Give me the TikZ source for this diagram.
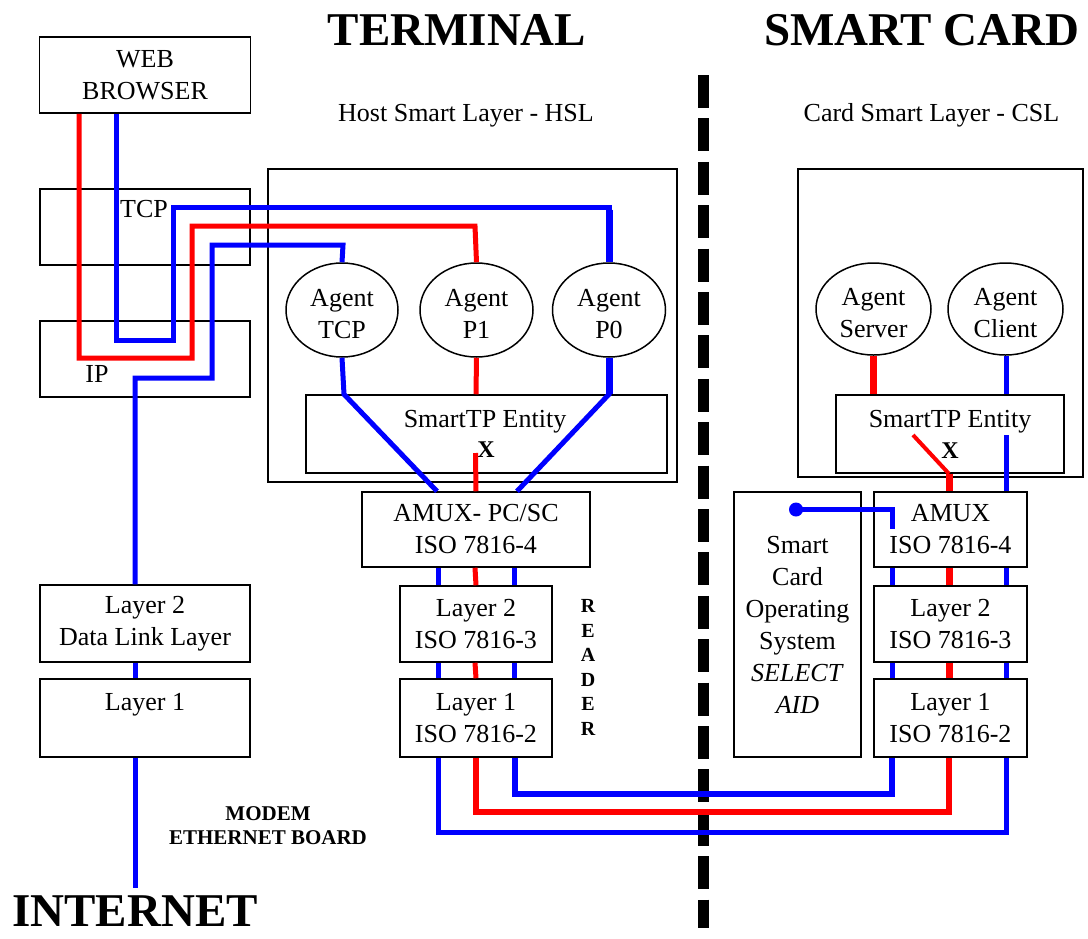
\documentclass[tikz,border=0pt]{standalone}
\usepackage{fontspec}
\setmainfont{Liberation Serif}
\usetikzlibrary{shapes.geometric}
\begin{document}
\begin{tikzpicture}[x=1pt,y=-1pt,
  box/.style={draw=black, line width=1.5pt, rectangle, inner sep=0pt, align=center,
              font=\fontsize{26}{32}\selectfont},
  agent/.style={draw=black, line width=1.5pt, ellipse, inner sep=0pt},
  agtxt/.style={inner sep=0pt, align=center, yshift=-4pt, font=\fontsize{26}{32}\selectfont},
  txt/.style={inner sep=0pt, font=\fontsize{26}{32}\selectfont},
  title/.style={inner sep=0pt, font=\bfseries\fontsize{47}{47}\selectfont},
  bw/.style={draw={rgb,255:red,0;green,0;blue,255}, line width=5pt},
  rw/.style={draw={rgb,255:red,255;green,0;blue,0}, line width=5pt},
  heavy/.style={line width=7pt}
]
\fill[white] (0,0) rectangle (1088,938);
\useasboundingbox (0,0) rectangle (1088,938);

% ---------- titles ----------
\node[title, anchor=base] (term) at (457,45) {TERMINAL};
\node[title, anchor=base] (scard) at (922,45) {SMART CARD};
\node[txt, anchor=base] (hsllbl) at (466,121) {Host Smart Layer - HSL};
\node[txt, anchor=base] (csllbl) at (931.5,121) {Card Smart Layer - CSL};
\node[title, anchor=base] (internet) at (135,926) {INTERNET};

% ---------- separator between terminal and card ----------
\draw[line width=11pt, dash pattern=on 33pt off 10.4pt] (703.5,75) -- (703.5,928);

% ---------- host protocol stack ----------
\node[box, minimum width=211pt, minimum height=76pt] (browser) at (145,75) {WEB\\BROWSER};
\node[box, minimum width=210pt, minimum height=76pt] (tcp) at (145,227) {};
\node[txt, anchor=base] (tcplbl) at (144,217) {TCP};
\node[box, minimum width=210pt, minimum height=76pt] (ip) at (145,359) {};
\node[txt, anchor=base] (iplbl) at (97,382) {IP};
\node[box, minimum width=210pt, minimum height=77pt] (dll) at (145,623.5) {Layer 2\\Data Link Layer};
\node[box, minimum width=210pt, minimum height=78pt] (lay1) at (145,718) {};
\node[txt, anchor=base] (lay1lbl) at (145,710) {Layer 1};
\node[inner sep=0pt, font=\bfseries\fontsize{21}{24}\selectfont, anchor=base] (modem) at (268,820) {MODEM};
\node[inner sep=0pt, font=\bfseries\fontsize{21}{24}\selectfont, anchor=base] (ethb) at (268,844) {ETHERNET BOARD};

% ---------- host smart layer ----------
\node[box, minimum width=409pt, minimum height=313pt] (hsl) at (472.5,325.5) {};
\node[box, minimum width=361pt, minimum height=78pt] (hstp) at (486.5,434) {};
\node[txt, anchor=base] (hstplbl) at (485,427) {SmartTP Entity};
\node[inner sep=0pt, font=\bfseries\fontsize{24}{24}\selectfont, anchor=base] (hstpx) at (486,457) {X};
\node[agent, minimum width=112pt, minimum height=94pt, label={[agtxt]center:{Agent\\TCP}}] (agtcp) at (342,310) {};
\node[agent, minimum width=113pt, minimum height=94pt, label={[agtxt]center:{Agent\\P1}}] (agp1) at (476.5,310) {};
\node[agent, minimum width=113pt, minimum height=94pt, label={[agtxt]center:{Agent\\P0}}] (agp0) at (609,310) {};

% ---------- reader ----------
\node[box, minimum width=228pt, minimum height=75pt] (hamux) at (476,529.5) {AMUX- PC/SC\\ISO 7816-4};
\node[box, minimum width=152pt, minimum height=76pt] (rl2) at (476,624) {Layer 2\\ISO 7816-3};
\node[box, minimum width=152pt, minimum height=78pt] (rl1) at (476,718) {Layer 1\\ISO 7816-2};
\node[inner sep=0pt, align=center, font=\bfseries\fontsize{20}{24.5}\selectfont] (reader) at (588,667.4) {R\\E\\A\\D\\E\\R};

% ---------- card smart layer ----------
\node[box, minimum width=285pt, minimum height=308pt] (csl) at (940.5,323) {};
\node[box, minimum width=228pt, minimum height=78pt] (cstp) at (950,434) {};
\node[txt, anchor=base] (cstplbl) at (950,427) {SmartTP Entity};
\node[inner sep=0pt, font=\bfseries\fontsize{24}{24}\selectfont, anchor=base] (cstpx) at (950,458) {X};
\node[agent, minimum width=115pt, minimum height=92pt, label={[agtxt]center:{Agent\\Server}}] (agsrv) at (873.5,309) {};
\node[agent, minimum width=115pt, minimum height=92pt, label={[agtxt]center:{Agent\\Client}}] (agcli) at (1005.5,309) {};

% ---------- card stack ----------
\node[box, minimum width=127pt, minimum height=265pt] (scos) at (797.5,624.5)
  {Smart\\Card\\Operating\\System\\\textit{SELECT}\\\textit{AID}};
\node[box, minimum width=153pt, minimum height=75pt] (camux) at (950.5,529.5) {AMUX\\ISO 7816-4};
\node[box, minimum width=153pt, minimum height=76pt] (cl2) at (950.5,624) {Layer 2\\ISO 7816-3};
\node[box, minimum width=153pt, minimum height=78pt] (cl1) at (950.5,718) {Layer 1\\ISO 7816-2};

% ---------- free ends ----------
\coordinate (inet) at (135,888);
\coordinate (hx) at (475.5,453);
\coordinate (cx1) at (913,435);
\coordinate (cx2) at (1006,435);
\coordinate (selin) at (892,529);

% ---------- host paths ----------
\draw[rw] (79,0 |- browser.south) -- (79,358) -- (192,358) -- (192,226) -- (475,226) -- (agp1.north);
\draw[bw] (116,0 |- browser.south) -- (116,340) -- (173,340) -- (173,207) -- (609,207) -- (agp0.north);
\draw[bw, heavy] (609,209.5) -- (agp0.north);
\draw[bw] (135,0 |- dll.north) -- (135,378) -- (212,378) -- (212,245) -- (343,245) -- (agtcp.north);
\draw[bw] (135,0 |- dll.south) -- (135,0 |- lay1.north);
\draw[bw] (135,0 |- lay1.south) -- (inet);

% ---------- inside the host smart layer ----------
\draw[bw] (agtcp.south) -- (344,0 |- hstp.north) -- (437,0 |- hamux.north);
\draw[rw] (agp1.south) -- (476,0 |- hstp.north);
\draw[rw] (hx) -- (476,0 |- hamux.north);
\draw[bw] (agp0.south) -- (609,0 |- hstp.north) -- (517,0 |- hamux.north);
\draw[bw, heavy] (agp0.south) -- (609,0 |- hstp.north);

% ---------- reader layers ----------
\draw[bw] (438,0 |- hamux.south) -- (438,0 |- rl2.north);
\draw[rw] (475,0 |- hamux.south) -- (476,0 |- rl2.north);
\draw[bw] (514,0 |- hamux.south) -- (514,0 |- rl2.north);
\draw[bw] (438,0 |- rl2.south) -- (438,0 |- rl1.north);
\draw[rw] (475,0 |- rl2.south) -- (476,0 |- rl1.north);
\draw[bw] (514,0 |- rl2.south) -- (514,0 |- rl1.north);

% ---------- reader to card ----------
\draw[bw] (438,0 |- rl1.south) -- (438,832) -- (1006,832) -- (1006,0 |- cl1.south);
\draw[rw, line width=6pt] (476,0 |- rl1.south) -- (476,812) -- (949,812) -- (949,0 |- cl1.south);
\draw[bw, line width=6pt] (515,0 |- rl1.south) -- (515,794) -- (892,794) -- (892,0 |- cl1.south);

% ---------- inside the card ----------
\draw[rw, heavy] (873,0 |- agsrv.south) -- (873,0 |- cstp.north);
\draw[bw] (1006,0 |- agcli.south) -- (1006,0 |- cstp.north);
\draw[rw, line width=4pt] (cx1) -- (949,0 |- cstp.south);
\draw[rw, heavy] (949,0 |- cstp.south) -- (949,0 |- camux.north);
\draw[bw] (cx2) -- (1006,0 |- camux.north);

\draw[bw] (892,0 |- camux.south) -- (892,0 |- cl2.north);
\draw[rw, heavy] (949,0 |- camux.south) -- (949,0 |- cl2.north);
\draw[bw] (1006,0 |- camux.south) -- (1006,0 |- cl2.north);
\draw[bw] (892,0 |- cl2.south) -- (892,0 |- cl1.north);
\draw[rw, heavy] (949,0 |- cl2.south) -- (949,0 |- cl1.north);
\draw[bw] (1006,0 |- cl2.south) -- (1006,0 |- cl1.north);

% ---------- operating system selects the application ----------
\node[circle, fill={rgb,255:red,0;green,0;blue,255}, inner sep=0pt, minimum size=14pt] (dot) at (796,509.5) {};
\draw[bw] (dot.center) -- (892,509.5) -- (selin);
\end{tikzpicture}
\end{document}
